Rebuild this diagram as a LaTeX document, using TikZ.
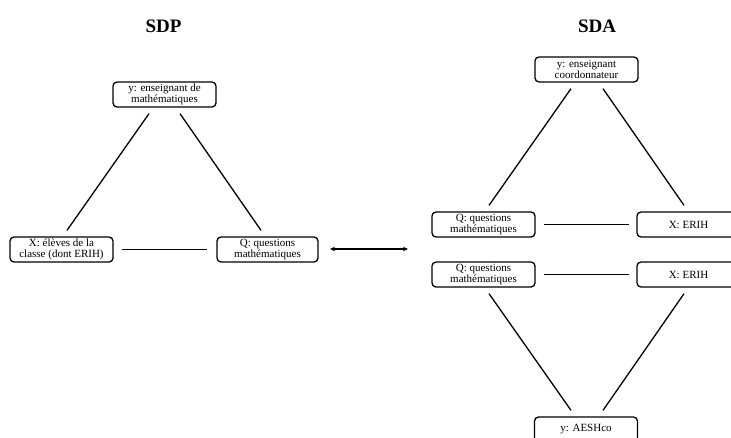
\documentclass[tikz,border=0pt]{standalone}
\usepackage{fontspec}
\setmainfont{Liberation Serif}
\usetikzlibrary{arrows.meta}
\begin{document}
\begin{tikzpicture}[x=1pt,y=-1pt,
  box/.style={draw, rounded corners=4pt, line width=1.3pt, minimum width=103pt, minimum height=25pt, inner sep=0.5pt, align=center, font=\fontsize{11}{11.5}\selectfont},
  link/.style={line width=1.3pt},
  ttl/.style={font=\fontsize{19}{22}\selectfont\bfseries}]
\useasboundingbox (0,0) rectangle (731,437);
\node[ttl] (sdp) at (163.5,26) {SDP};
\node[ttl] (sda) at (597,26) {SDA};
% SDP
\node[box] (y1) at (164.5,94.5) {y: enseignant de\\mathématiques};
\node[box] (x1) at (61.5,249.5) {X: élèves de la\\classe (dont ERIH)};
\node[box, minimum width=101pt] (q1) at (267.5,249.5) {Q: questions\\mathématiques};
\draw[link] ([xshift=-15.5pt,yshift=-6pt]y1.south) -- ([xshift=5.5pt,yshift=6pt]x1.north);
\draw[link] ([xshift=15.5pt,yshift=-6pt]y1.south) -- ([xshift=-6.5pt,yshift=6pt]q1.north);
\draw[link, shorten <=8pt, shorten >=9pt] (x1.east) -- (q1.west);
% arrow
\coordinate (al) at (330,249);
\coordinate (ar) at (408,249);
\draw[link, {Stealth[length=5pt,width=4.5pt]}-{Stealth[length=5pt,width=4.5pt]}] (al) -- (ar);
% SDA
\node[box] (y2) at (586.5,69.5) {y: enseignant\\coordonnateur};
\node[box] (q2) at (483.5,224.5) {Q: questions\\mathématiques};
\node[box] (x2) at (688.5,224.5) {X: ERIH};
\node[box] (q3) at (483.5,274.5) {Q: questions\\mathématiques};
\node[box] (x3) at (688.5,274.5) {X: ERIH};
\node[box] (y3) at (586,429.5) {y: AESHco};
\draw[link] ([xshift=-15.5pt,yshift=-6pt]y2.south) -- ([xshift=5.5pt,yshift=6pt]q2.north);
\draw[link] ([xshift=16.5pt,yshift=-6pt]y2.south) -- ([xshift=-4.5pt,yshift=6pt]x2.north);
\draw[link, shorten <=8pt, shorten >=7pt] (q2.east) -- (x2.west);
\draw[link, shorten <=8pt, shorten >=7pt] (q3.east) -- (x3.west);
\draw[link] ([xshift=5.5pt,yshift=-6pt]q3.south) -- ([xshift=-15pt,yshift=6pt]y3.north);
\draw[link] ([xshift=-4.5pt,yshift=-6pt]x3.south) -- ([xshift=17pt,yshift=6pt]y3.north);
\end{tikzpicture}
\end{document}
